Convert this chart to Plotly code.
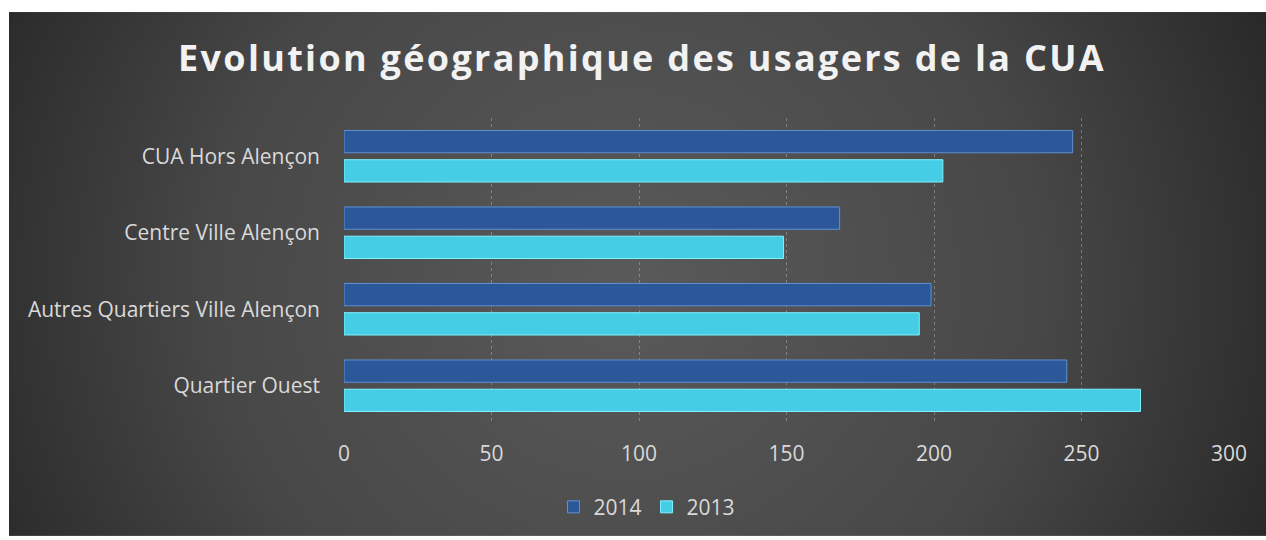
import base64
import plotly.graph_objects as go

categories = ["Quartier Ouest", "Autres Quartiers Ville Alençon", "Centre Ville Alençon", "CUA Hors Alençon"]
values_2014 = [245, 199, 168, 247]
values_2013 = [270, 195, 149, 203]
x_ticks = [0, 50, 100, 150, 200, 250, 300]
title_text = "Evolution géographique des usagers de la CUA"

W, H = 1266, 540
PL, PR, PT, PB = 344, 1229, 118, 427  # plot area in pixels
pw, ph = PR - PL, PB - PT
BX, BY = 9, 11  # start of dark chart area

svg = """<svg xmlns='http://www.w3.org/2000/svg' width='1257' height='529' viewBox='0 0 1257 529' preserveAspectRatio='none'>
<defs><radialGradient id='g' cx='0.49' cy='0.52' r='0.6' gradientTransform='translate(0.49 0.52) scale(1 2.3) translate(-0.49 -0.52)'>
<stop offset='0' stop-color='#5a5a5a'/><stop offset='0.55' stop-color='#474747'/><stop offset='1' stop-color='#232323'/>
</radialGradient></defs><rect width='1257' height='529' fill='url(#g)'/></svg>"""
svg_uri = "data:image/svg+xml;base64," + base64.b64encode(svg.encode()).decode()

fig = go.Figure()
fig.add_trace(go.Bar(
    y=categories, x=values_2013, name="2013", orientation="h",
    marker=dict(color="#45CDE5", line=dict(color="#7FF2FF", width=1)),
))
fig.add_trace(go.Bar(
    y=categories, x=values_2014, name="2014", orientation="h",
    marker=dict(color="#2C5899", line=dict(color="#5E8FD6", width=1)),
))

fig.add_layout_image(dict(
    source=svg_uri, xref="paper", yref="paper",
    x=(BX - PL) / pw, y=(PB - BY) / ph,
    sizex=(W - BX) / pw, sizey=(H - BY) / ph,
    xanchor="left", yanchor="top", sizing="stretch", layer="below",
))

fig.update_layout(
    width=W, height=H,
    margin=dict(l=PL, r=W - PR, t=PT, b=H - PB, pad=0),
    paper_bgcolor="white", plot_bgcolor="rgba(0,0,0,0)",
    barmode="group", bargap=0.236, bargroupgap=0.237,
    title=dict(text=title_text, x=642 / W, xanchor="center", y=1 - 58 / H, yanchor="middle",
               font=dict(family="Open Sans", size=36, color="#F2F2F2", weight="bold")),
    font=dict(family="Open Sans", color="#D9D9D9", size=21),
    showlegend=True,
    legend=dict(orientation="h", x=(647 - PL) / pw, xanchor="center", y=(PB - 511) / ph,
                yanchor="middle", traceorder="reversed", bgcolor="rgba(0,0,0,0)",
                font=dict(size=21, color="#D9D9D9"), itemwidth=30),
    xaxis=dict(range=[0, 300], tickvals=x_ticks, showgrid=True, gridcolor="rgba(200,200,200,0.4)",
               griddash="dot", gridwidth=1, zeroline=False, showline=False,
               tickfont=dict(size=21, color="#D9D9D9"), ticklabelstandoff=15),
    yaxis=dict(showgrid=False, zeroline=False, showline=False,
               tickfont=dict(size=21, color="#D9D9D9"), ticklabelstandoff=23),
)

post = ("document.body.style.margin='0';document.body.style.overflow='hidden';"
        "document.querySelectorAll('.gtitle').forEach(function(e){e.style.letterSpacing='2.3px';});")
fig.write_html("out.html", post_script=post, config={"displayModeBar": False})
